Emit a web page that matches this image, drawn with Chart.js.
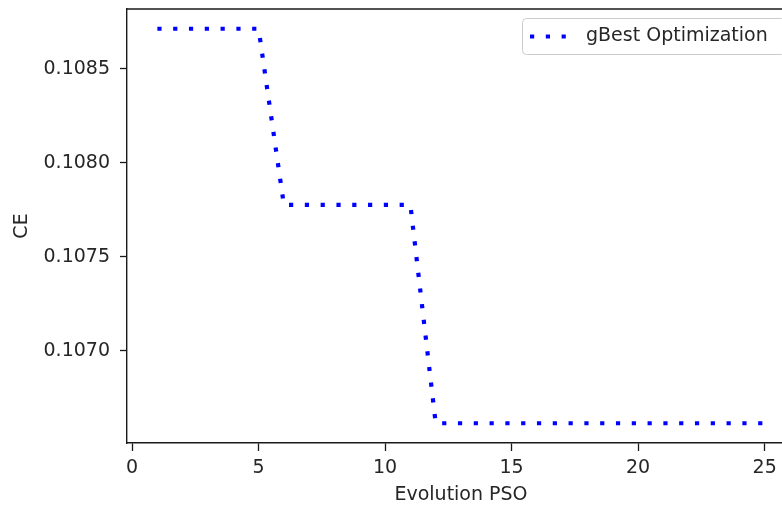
<!DOCTYPE html>
<html>
<head>
<meta charset="utf-8">
<script src="https://cdn.jsdelivr.net/npm/chart.js@4"></script>
<style>
  html, body { margin: 0; padding: 0; background: #fff; overflow: hidden; }
  #wrap { width: 800px; height: 508px; }
</style>
</head>
<body>
<div id="wrap"><canvas id="ce" width="800" height="508"></canvas></div>
<script>
// gBest CE per PSO iteration
const evolution = [1, 2, 3, 4, 5, 6, 7, 8, 9, 10, 11, 12, 13, 14, 15, 16, 17, 18, 19, 20, 21, 22, 23, 24, 25];
const gBestCE = [
  0.108713, 0.108713, 0.108713, 0.108713, 0.108713,
  0.107775, 0.107775, 0.107775, 0.107775, 0.107775, 0.107775,
  0.106613, 0.106613, 0.106613, 0.106613, 0.106613, 0.106613, 0.106613,
  0.106613, 0.106613, 0.106613, 0.106613, 0.106613, 0.106613, 0.106613,
];
const xTicks = [0, 5, 10, 15, 20, 25];
const yTicks = [0.1070, 0.1075, 0.1080, 0.1085];
const seriesLabel = 'gBest Optimization';

const FONT = "'DejaVu Sans', sans-serif";
const INK = '#262626';
const SPINE = '#1a1a1a';

// matplotlib-style 5% margins around the data
function withMargin(vals) {
  const lo = Math.min(...vals), hi = Math.max(...vals);
  const m = (hi - lo) * 0.05;
  return [lo - m, hi + m];
}
const [xMin, xMax] = withMargin(evolution);
const [yMin, yMax] = withMargin(gBestCE);

// top/right spines, which the scales don't draw themselves
const frame = {
  id: 'frame',
  afterDatasetsDraw(chart) {
    const { ctx, chartArea: a } = chart;
    ctx.save();
    ctx.strokeStyle = SPINE;
    ctx.lineWidth = 1.4;
    ctx.beginPath();
    ctx.moveTo(a.left, a.top);
    ctx.lineTo(a.right, a.top);
    ctx.lineTo(a.right, a.bottom);
    ctx.stroke();
    ctx.restore();
  }
};

// boxed legend in the upper right corner of the axes
const cornerLegend = {
  id: 'cornerLegend',
  afterDraw(chart) {
    const { ctx, chartArea: a } = chart;
    const ds = chart.data.datasets[0];
    const right = a.right - 9.5, top = 18.5, bottom = 54.5, left = 522.5;
    ctx.save();
    ctx.fillStyle = 'rgba(255,255,255,0.8)';
    ctx.strokeStyle = '#cccccc';
    ctx.lineWidth = 1;
    ctx.beginPath();
    ctx.roundRect(left, top, right - left, bottom - top, 4);
    ctx.fill();
    ctx.stroke();

    const cy = (top + bottom) / 2;
    ctx.strokeStyle = ds.borderColor;
    ctx.lineWidth = ds.borderWidth;
    ctx.lineCap = 'butt';
    ctx.setLineDash(ds.borderDash);
    ctx.beginPath();
    ctx.moveTo(530, cy);
    ctx.lineTo(569, cy);
    ctx.stroke();
    ctx.setLineDash([]);

    ctx.fillStyle = INK;
    ctx.font = '19px ' + FONT;
    ctx.textBaseline = 'middle';
    ctx.textAlign = 'left';
    ctx.fillText(ds.label, 586, cy);
    ctx.restore();
  }
};

new Chart(document.getElementById('ce'), {
  type: 'line',
  data: {
    datasets: [{
      label: seriesLabel,
      data: evolution.map((x, i) => ({ x, y: gBestCE[i] })),
      borderColor: '#0000ff',
      backgroundColor: '#0000ff',
      borderWidth: 4.2,
      borderDash: [4.2, 11.6],
      borderCapStyle: 'butt',
      borderJoinStyle: 'miter',
      tension: 0,
      pointRadius: 0,
      fill: false,
    }],
  },
  options: {
    responsive: false,
    animation: false,
    devicePixelRatio: 1,
    layout: { padding: { top: 9, right: 5, left: 0, bottom: 0 } },
    plugins: {
      legend: { display: false },
      tooltip: { enabled: false },
    },
    scales: {
      x: {
        type: 'linear',
        min: xMin,
        max: xMax,
        afterFit: (s) => { s.height = 65; s.paddingLeft = 0; s.paddingRight = 0; },
        afterBuildTicks: (s) => { s.ticks = xTicks.map(v => ({ value: v })); },
        grid: { drawOnChartArea: false, drawTicks: true, tickLength: 8, tickWidth: 1.3, tickColor: SPINE },
        border: { display: true, color: SPINE, width: 1.4 },
        ticks: {
          color: INK,
          padding: 6,
          maxRotation: 0,
          autoSkip: false,
          font: { family: FONT, size: 19 },
          callback: (v) => String(v),
        },
        title: {
          display: true,
          text: 'Evolution PSO',
          color: INK,
          font: { family: FONT, size: 19 },
          padding: { top: 0, bottom: 2 },
        },
      },
      y: {
        min: yMin,
        max: yMax,
        afterFit: (s) => { s.width = 127; s.paddingTop = 0; s.paddingBottom = 0; },
        afterBuildTicks: (s) => { s.ticks = yTicks.map(v => ({ value: v })); },
        grid: { drawOnChartArea: false, drawTicks: true, tickLength: 7, tickWidth: 1.3, tickColor: SPINE },
        border: { display: true, color: SPINE, width: 1.4 },
        ticks: {
          color: INK,
          padding: 10,
          autoSkip: false,
          font: { family: FONT, size: 19 },
          callback: (v) => v.toFixed(4),
        },
        title: {
          display: true,
          text: 'CE',
          color: INK,
          font: { family: FONT, size: 19 },
          padding: { top: 11, bottom: 0 },
        },
      },
    },
  },
  plugins: [frame, cornerLegend],
});
</script>
</body>
</html>
